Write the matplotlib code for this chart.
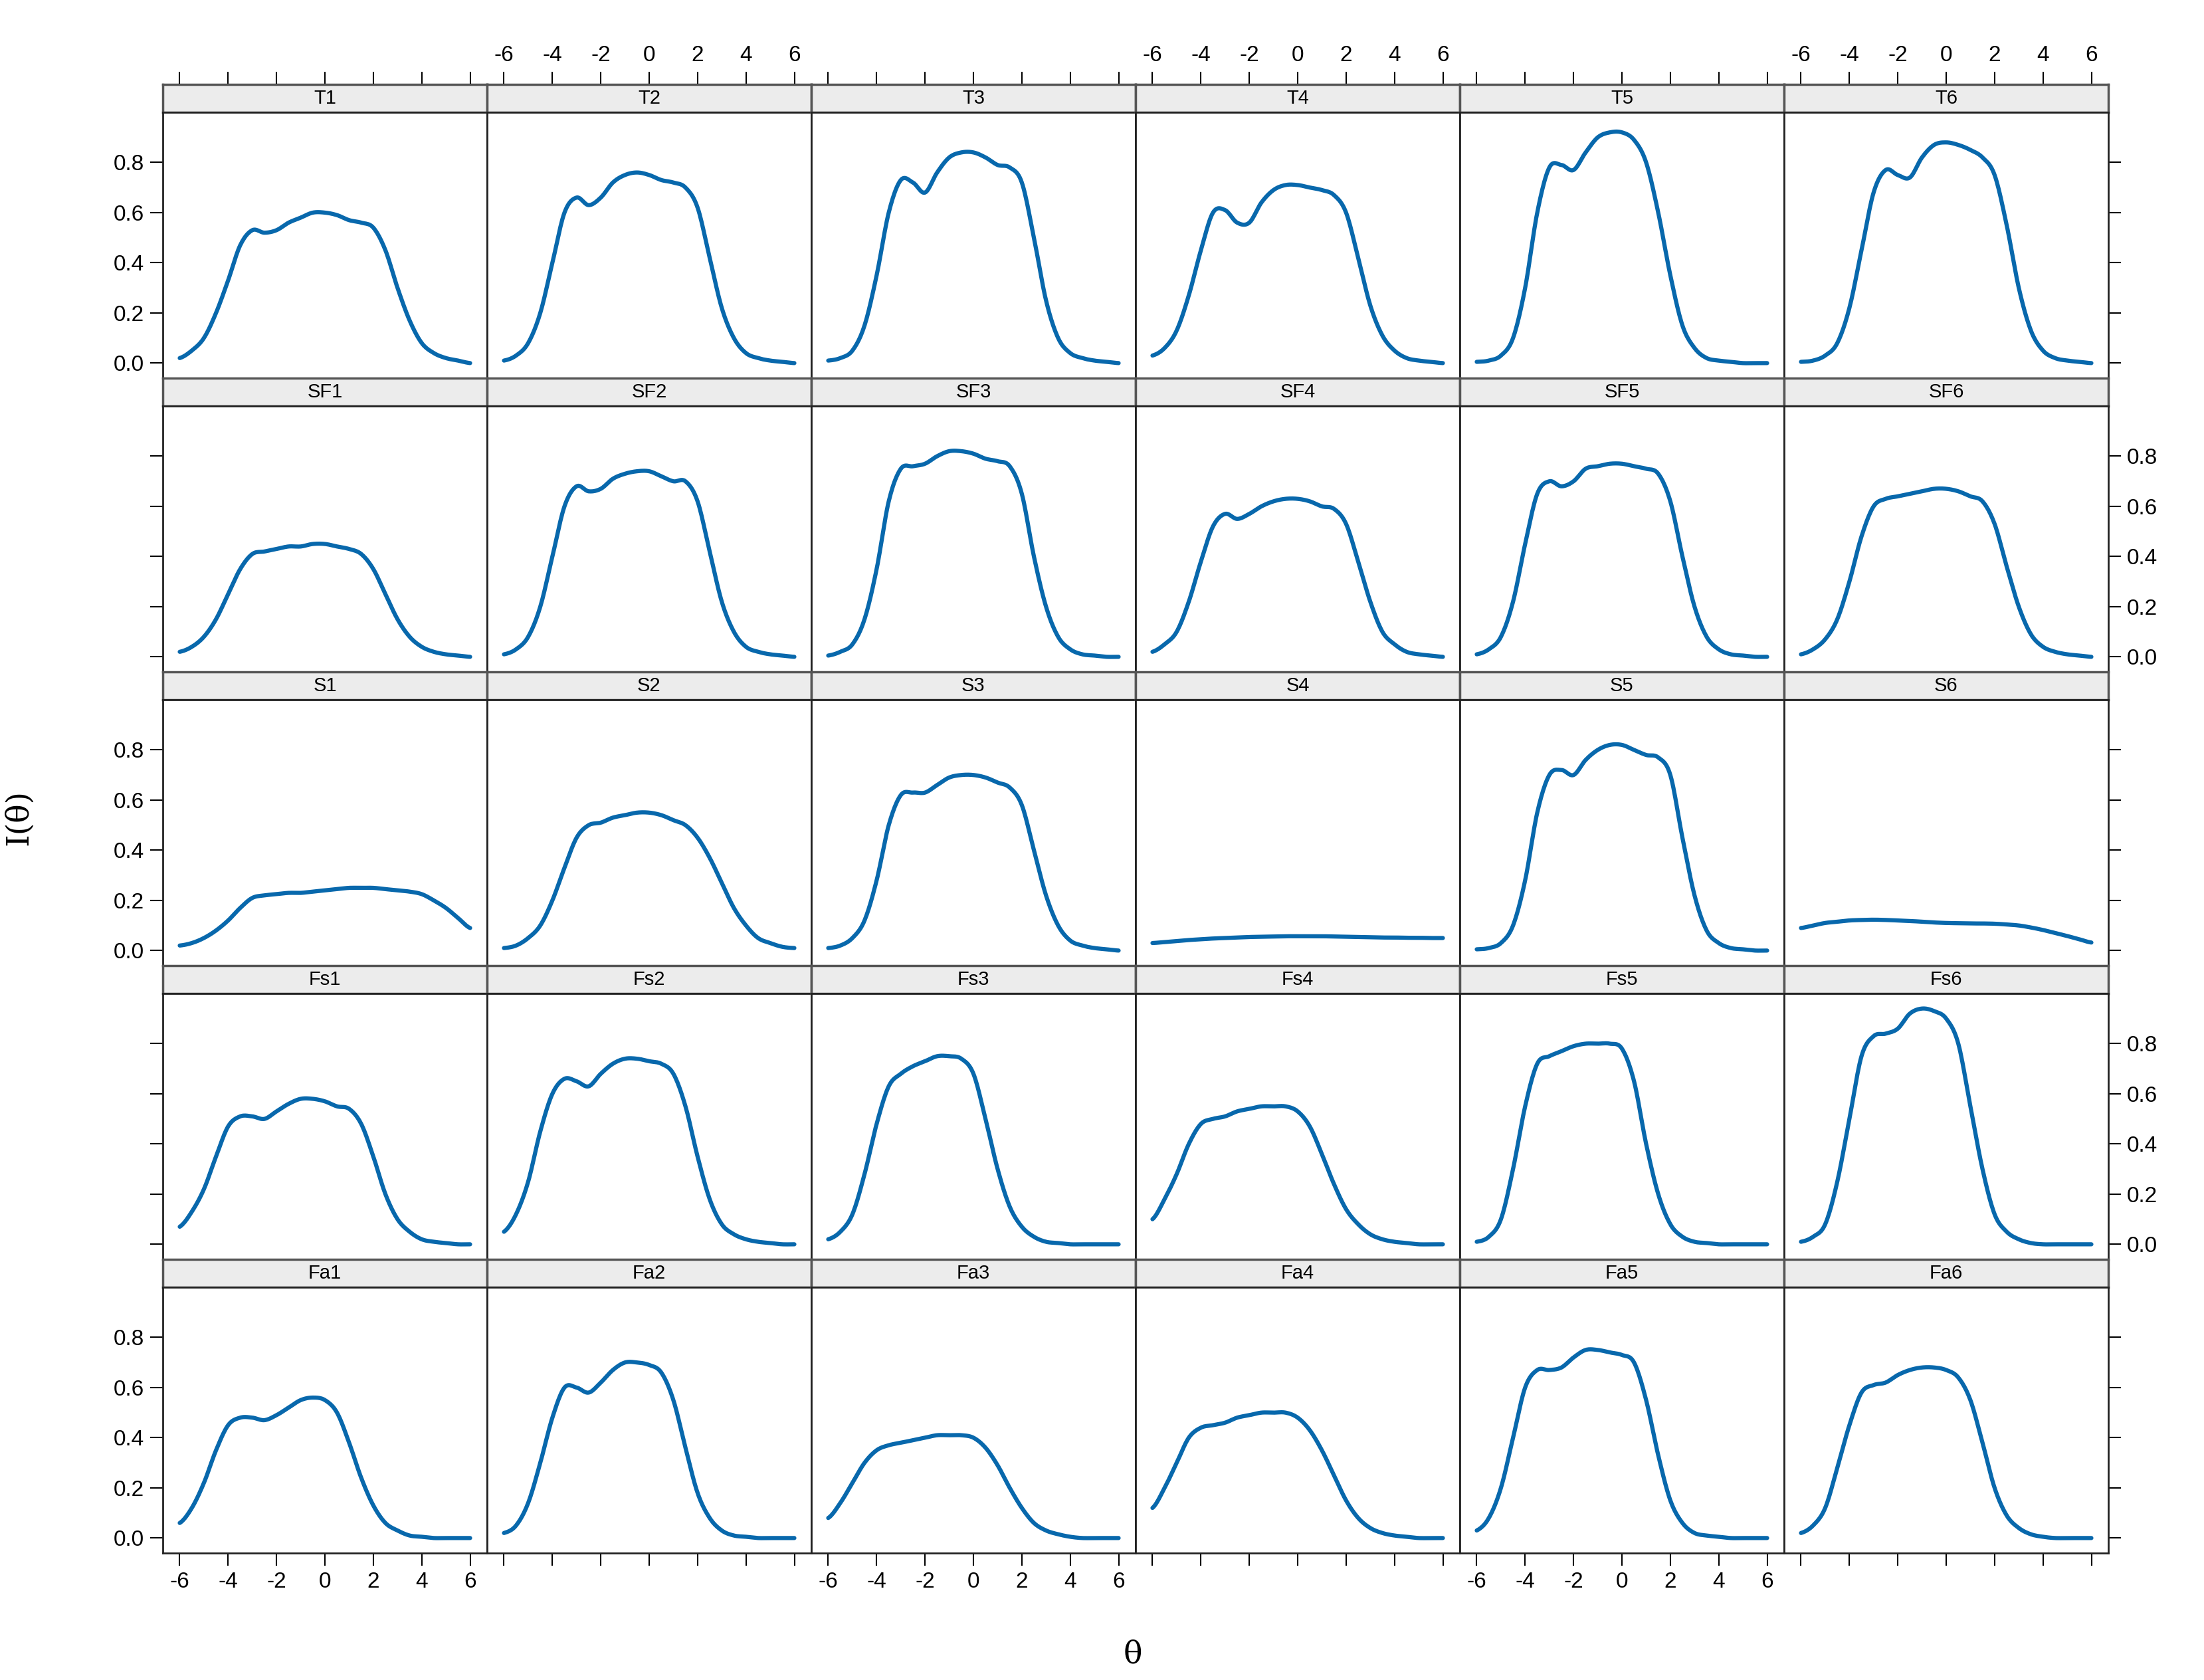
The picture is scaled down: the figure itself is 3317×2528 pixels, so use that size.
import numpy as np
import matplotlib
matplotlib.use("Agg")
import matplotlib.pyplot as plt
plt.rcParams['axes.unicode_minus'] = False
plt.rcParams['font.family'] = ['Liberation Sans', 'DejaVu Sans']

theta = np.arange(-6, 6.01, 0.5)
rows = [["T1","T2","T3","T4","T5","T6"],
        ["SF1","SF2","SF3","SF4","SF5","SF6"],
        ["S1","S2","S3","S4","S5","S6"],
        ["Fs1","Fs2","Fs3","Fs4","Fs5","Fs6"],
        ["Fa1","Fa2","Fa3","Fa4","Fa5","Fa6"]]

T1 = [0.02,0.05,0.1,0.2,0.33,0.47,0.53,0.52,0.53,0.56,0.58,0.60,0.60,0.59,0.57,0.56,0.54,0.45,0.3,0.17,0.08,0.04,0.02,0.01,0.0]
T2 = [0.01,0.03,0.08,0.2,0.4,0.6,0.66,0.63,0.66,0.72,0.75,0.76,0.75,0.73,0.72,0.70,0.62,0.42,0.22,0.1,0.04,0.02,0.01,0.005,0]
T3 = [0.01,0.02,0.05,0.15,0.35,0.6,0.73,0.72,0.68,0.76,0.82,0.84,0.84,0.82,0.79,0.78,0.72,0.5,0.25,0.1,0.04,0.02,0.01,0.005,0]
T4 = [0.03,0.06,0.13,0.27,0.45,0.6,0.61,0.56,0.56,0.64,0.69,0.71,0.71,0.70,0.69,0.67,0.6,0.42,0.23,0.11,0.05,0.02,0.01,0.005,0]
T5 = [0.005,0.01,0.03,0.1,0.3,0.6,0.78,0.79,0.77,0.84,0.9,0.92,0.92,0.89,0.8,0.6,0.35,0.15,0.06,0.02,0.01,0.005,0,0,0]
T6 = [0.005,0.01,0.03,0.08,0.22,0.45,0.68,0.77,0.75,0.74,0.82,0.87,0.88,0.87,0.85,0.82,0.75,0.55,0.3,0.13,0.05,0.02,0.01,0.005,0]
SF1 = [0.02,0.04,0.08,0.15,0.25,0.35,0.41,0.42,0.43,0.44,0.44,0.45,0.45,0.44,0.43,0.41,0.35,0.25,0.15,0.08,0.04,0.02,0.01,0.005,0]
SF2 = [0.01,0.03,0.08,0.2,0.4,0.6,0.68,0.66,0.67,0.71,0.73,0.74,0.74,0.72,0.70,0.70,0.62,0.42,0.22,0.1,0.04,0.02,0.01,0.005,0]
SF3 = [0.005,0.02,0.05,0.15,0.35,0.62,0.75,0.76,0.77,0.8,0.82,0.82,0.81,0.79,0.78,0.76,0.65,0.4,0.2,0.08,0.03,0.01,0.005,0,0]
SF4 = [0.02,0.05,0.1,0.22,0.38,0.52,0.57,0.55,0.57,0.60,0.62,0.63,0.63,0.62,0.60,0.59,0.53,0.38,0.22,0.1,0.05,0.02,0.01,0.005,0]
SF5 = [0.01,0.03,0.08,0.22,0.45,0.65,0.7,0.68,0.7,0.75,0.76,0.77,0.77,0.76,0.75,0.73,0.62,0.4,0.2,0.08,0.03,0.01,0.005,0,0]
SF6 = [0.01,0.03,0.07,0.15,0.3,0.48,0.6,0.63,0.64,0.65,0.66,0.67,0.67,0.66,0.64,0.62,0.53,0.36,0.2,0.09,0.04,0.02,0.01,0.005,0]
S1 = [0.02,0.03,0.05,0.08,0.12,0.17,0.21,0.22,0.225,0.23,0.23,0.235,0.24,0.245,0.25,0.25,0.25,0.245,0.24,0.235,0.225,0.2,0.17,0.13,0.09]
S2 = [0.01,0.02,0.05,0.1,0.2,0.33,0.45,0.5,0.51,0.53,0.54,0.55,0.55,0.54,0.52,0.5,0.45,0.37,0.27,0.17,0.1,0.05,0.03,0.015,0.01]
S3 = [0.01,0.02,0.05,0.12,0.28,0.5,0.62,0.63,0.63,0.66,0.69,0.70,0.70,0.69,0.67,0.65,0.58,0.4,0.22,0.1,0.04,0.02,0.01,0.005,0]
S4 = [0.03,0.034,0.038,0.042,0.045,0.048,0.05,0.052,0.054,0.055,0.056,0.057,0.057,0.057,0.057,0.056,0.055,0.054,0.053,0.052,0.052,0.051,0.051,0.05,0.05]
S5 = [0.005,0.01,0.03,0.1,0.28,0.55,0.7,0.72,0.7,0.76,0.8,0.82,0.82,0.8,0.78,0.77,0.7,0.45,0.22,0.08,0.03,0.01,0.005,0,0]
S6 = [0.09,0.1,0.11,0.115,0.12,0.122,0.123,0.122,0.12,0.118,0.115,0.112,0.11,0.109,0.108,0.108,0.107,0.104,0.1,0.092,0.082,0.07,0.058,0.045,0.032]
Fs1 = [0.07,0.13,0.22,0.35,0.47,0.51,0.51,0.5,0.53,0.56,0.58,0.58,0.57,0.55,0.54,0.48,0.35,0.2,0.1,0.05,0.02,0.01,0.005,0,0]
Fs2 = [0.05,0.12,0.25,0.45,0.6,0.66,0.65,0.63,0.68,0.72,0.74,0.74,0.73,0.72,0.68,0.55,0.35,0.18,0.08,0.04,0.02,0.01,0.005,0,0]
Fs3 = [0.02,0.05,0.12,0.28,0.48,0.63,0.68,0.71,0.73,0.75,0.75,0.74,0.68,0.5,0.3,0.15,0.07,0.03,0.01,0.005,0,0,0,0,0]
Fs4 = [0.1,0.18,0.28,0.4,0.48,0.5,0.51,0.53,0.54,0.55,0.55,0.55,0.53,0.47,0.36,0.24,0.14,0.08,0.04,0.02,0.01,0.005,0,0,0]
Fs5 = [0.01,0.03,0.1,0.3,0.55,0.72,0.75,0.77,0.79,0.8,0.8,0.8,0.78,0.65,0.4,0.2,0.08,0.03,0.01,0.005,0,0,0,0,0]
Fs6 = [0.01,0.03,0.08,0.25,0.5,0.75,0.83,0.84,0.86,0.92,0.94,0.93,0.9,0.8,0.55,0.3,0.12,0.05,0.02,0.005,0,0,0,0,0]
Fa1 = [0.06,0.12,0.22,0.35,0.45,0.48,0.48,0.47,0.49,0.52,0.55,0.56,0.55,0.5,0.38,0.24,0.13,0.06,0.03,0.01,0.005,0,0,0,0]
Fa2 = [0.02,0.05,0.14,0.3,0.48,0.6,0.6,0.58,0.62,0.67,0.70,0.70,0.69,0.66,0.55,0.36,0.18,0.08,0.03,0.01,0.005,0,0,0,0]
Fa3 = [0.08,0.14,0.22,0.3,0.35,0.37,0.38,0.39,0.4,0.41,0.41,0.41,0.4,0.36,0.29,0.2,0.12,0.06,0.03,0.015,0.005,0,0,0,0]
Fa4 = [0.12,0.2,0.3,0.4,0.44,0.45,0.46,0.48,0.49,0.5,0.5,0.5,0.48,0.43,0.35,0.25,0.15,0.08,0.04,0.02,0.01,0.005,0,0,0]
Fa5 = [0.03,0.08,0.2,0.4,0.6,0.67,0.67,0.68,0.72,0.75,0.75,0.74,0.73,0.7,0.55,0.33,0.15,0.06,0.02,0.01,0.005,0,0,0,0]
Fa6 = [0.02,0.05,0.12,0.28,0.45,0.58,0.61,0.62,0.65,0.67,0.68,0.68,0.67,0.64,0.55,0.38,0.2,0.09,0.04,0.015,0.005,0,0,0,0]

data = dict(T1=T1,T2=T2,T3=T3,T4=T4,T5=T5,T6=T6,SF1=SF1,SF2=SF2,SF3=SF3,SF4=SF4,SF5=SF5,SF6=SF6,
            S1=S1,S2=S2,S3=S3,S4=S4,S5=S5,S6=S6,Fs1=Fs1,Fs2=Fs2,Fs3=Fs3,Fs4=Fs4,Fs5=Fs5,Fs6=Fs6,
            Fa1=Fa1,Fa2=Fa2,Fa3=Fa3,Fa4=Fa4,Fa5=Fa5,Fa6=Fa6)
xticks = [-6,-4,-2,0,2,4,6]
yticks = [0.0,0.2,0.4,0.6,0.8]
ylabels = ['0.0','0.2','0.4','0.6','0.8']

def smooth(x, y, n=12):
    x = np.asarray(x, float); y = np.asarray(y, float)
    xs, ys = [], []
    for i in range(len(x)-1):
        y0 = y[i-1] if i > 0 else y[i]
        y3 = y[i+2] if i+2 < len(y) else y[i+1]
        t = np.linspace(0, 1, n, endpoint=False)
        m1 = (y[i+1]-y0)/2; m2 = (y3-y[i])/2
        h00 = 2*t**3-3*t**2+1; h10 = t**3-2*t**2+t; h01 = -2*t**3+3*t**2; h11 = t**3-t**2
        xs.append(x[i] + t*(x[i+1]-x[i]))
        ys.append(h00*y[i]+h10*m1+h01*y[i+1]+h11*m2)
    xs.append([x[-1]]); ys.append([y[-1]])
    return np.concatenate(xs), np.concatenate(ys)

W, H = 3317, 2528
fig = plt.figure(figsize=(W/100, H/100), dpi=100)
L, R = 245/W, 3173/W
top, bot = 1-127/H, 1-2337/H
rowh = (top-bot)/5
striph = 42/H
colw = (R-L)/6
XL = (-6.7, 6.7); YL = (-0.06, 1.0)
tfs = 24
for r in range(5):
    for c in range(6):
        name = rows[r][c]
        x0 = L + c*colw
        ytop = top - r*rowh
        sax = fig.add_axes([x0, ytop-striph, colw, striph])
        sax.set_facecolor('#ececec')
        sax.set_xlim(XL); sax.set_ylim(0, 1)
        sax.text(0.5, 0.5, name, transform=sax.transAxes, ha='center', va='center', fontsize=21)
        sax.set_yticks([])
        for s in sax.spines.values():
            s.set_linewidth(2.5); s.set_color('#555555')
        if r == 0:
            sax.xaxis.tick_top()
            sax.set_xticks(xticks)
            sax.tick_params(axis='x', direction='out', length=14, width=1.5, labelsize=tfs, pad=6)
            if c % 2 == 0:
                sax.set_xticklabels([])
        else:
            sax.set_xticks([])
        ax = fig.add_axes([x0, ytop-rowh, colw, rowh-striph])
        ax.set_xlim(XL); ax.set_ylim(YL)
        xs, ys = smooth(theta, data[name])
        ax.plot(xs, ys, color='#0868ac', lw=4.5, solid_capstyle='round')
        for s in ax.spines.values():
            s.set_linewidth(2.0); s.set_color('#222222')
        ax.tick_params(direction='out', length=14, width=1.5, labelsize=tfs, pad=6)
        if r == 4:
            ax.set_xticks(xticks)
            if c % 2 == 1:
                ax.set_xticklabels([])
        else:
            ax.set_xticks([])
        ax.set_yticks(yticks if c in (0, 5) else [])
        if c == 0:
            ax.yaxis.tick_left()
            ax.set_yticklabels([] if r % 2 == 1 else ylabels)
        if c == 5:
            ax.yaxis.tick_right()
            ax.set_yticklabels([] if r % 2 == 0 else ylabels)

fig.text(0.514, 1-2490/H, 'θ', ha='center', va='center', fontsize=34, family='DejaVu Serif')
fig.text(28/W, 1-1230/H, 'I(θ)', ha='center', va='center', rotation=90, fontsize=34, family='DejaVu Serif')
fig.savefig('out.png', dpi=100)
